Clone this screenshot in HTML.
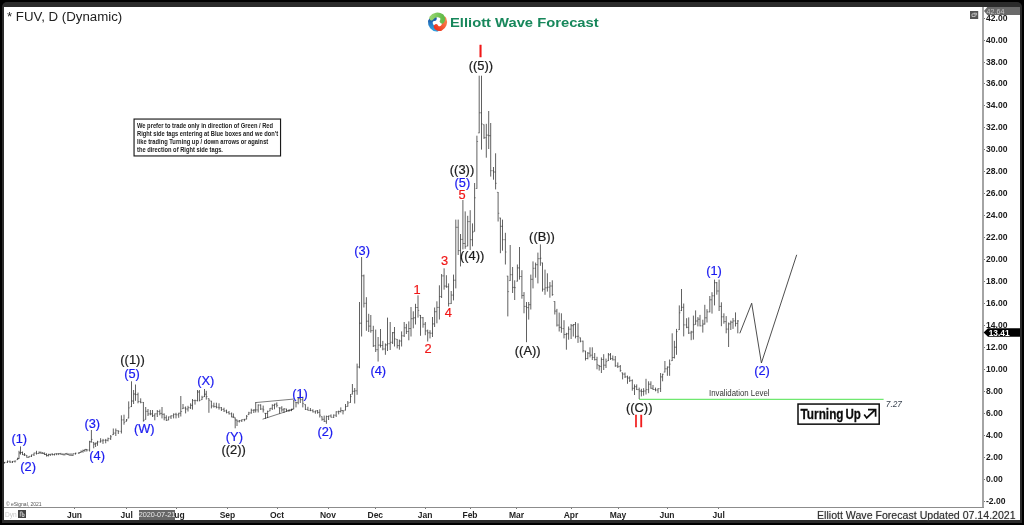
<!DOCTYPE html>
<html><head><meta charset="utf-8"><title>FUV Elliott Wave Forecast</title>
<style>
html,body{margin:0;padding:0}
body{width:1024px;height:525px;background:#000;position:relative;overflow:hidden;font-family:"Liberation Sans",Arial,sans-serif}
.frame{position:absolute;left:2px;top:2.2px;width:1019.7px;height:520.4px;background:#2b2b2b;border-radius:5px 5px 0 0}
.chart{position:absolute;left:4px;top:7px;width:1016px;height:513px;background:#fff}
.abs{position:absolute}
.vax{position:absolute;left:982.3px;top:7px;width:1.25px;height:500.5px;background:#a4a4a4}
.hax{position:absolute;left:4px;top:506.7px;width:979.5px;height:1px;background:#8c8c8c}
.pl{position:absolute;left:985.6px;width:34px;height:11px;line-height:11px;font-size:9.1px;font-weight:bold;color:#1a1a1a;transform:scaleX(0.94);transform-origin:0 50%}
.pt{position:absolute;left:983.5px;width:1.5px;height:1px;background:#777}
.ml{position:absolute;top:509.5px;width:30px;text-align:center;height:11px;line-height:11px;font-size:8.5px;font-weight:bold;color:#1f1f1f}
.mt{position:absolute;top:507.5px;width:1px;height:1.5px;background:#777}
.title{position:absolute;left:7.3px;top:9.6px;font-size:12px;line-height:14px;color:#222;white-space:nowrap;transform:scaleX(1.105);transform-origin:0 0}
.note{position:absolute;left:133.2px;top:118.1px;width:146px;height:36.6px;border:1px solid transparent;background:transparent;box-sizing:content-box}
.note div{position:absolute;left:3.0px;top:3.25px;font-size:6.5px;line-height:7.8px;font-weight:bold;color:#222;white-space:nowrap;transform:scaleX(0.885);transform-origin:0 0}
.brand{position:absolute;left:449.6px;top:15.1px;font-size:13.7px;line-height:16px;font-weight:bold;color:#17875b;white-space:nowrap;transform:scaleX(1.078);transform-origin:0 0}
.upd{position:absolute;left:817px;top:508.7px;font-size:10.6px;line-height:12px;color:#2e2e2e;white-space:nowrap;text-shadow:0 0 1px #999}
.turn{position:absolute;left:797.1px;top:403.4px;width:79.4px;height:17.7px;border:1.7px solid #111;background:#fff}
.turn span{position:absolute;left:1.9px;top:1.6px;font-size:13.6px;line-height:15px;font-weight:normal;-webkit-text-stroke:0.5px #111;color:#111;letter-spacing:-0.55px;word-spacing:-2.4px;white-space:nowrap}
.inv{position:absolute;left:709.4px;top:388.1px;font-size:8.3px;line-height:10px;color:#333;white-space:nowrap;transform:scaleX(0.945);transform-origin:0 0}
.v727{position:absolute;left:885.8px;top:399.3px;font-size:8.3px;line-height:10px;color:#3a4350;white-space:nowrap;font-style:italic}
.tag{position:absolute;left:984px;width:36px;height:8.5px}
.esig{position:absolute;left:6px;top:500.6px;font-size:5px;line-height:6px;color:#555;white-space:nowrap}
.dyn{position:absolute;left:5px;top:509.8px;font-size:6.6px;line-height:9px;color:#c9c9c9;white-space:nowrap}
.dynic{position:absolute;left:18.1px;top:509.8px;width:7.9px;height:8.1px;background:#444}
.date{position:absolute;left:138.8px;top:510.3px;width:36.2px;height:9.5px;background:#666;color:#e8e8e8;font-size:7.3px;line-height:9.5px;text-align:center;white-space:nowrap;letter-spacing:-0.1px}
svg text{font-family:"Liberation Sans",Arial,sans-serif}
</style></head><body>
<div class="frame"></div>
<div class="chart"></div>
<div class="vax"></div><div class="hax"></div>
<div class="pl" style="top:495.6px">-2.00</div><div class="pt" style="top:500.6px"></div>
<div class="pl" style="top:473.6px">0.00</div><div class="pt" style="top:478.6px"></div>
<div class="pl" style="top:451.6px">2.00</div><div class="pt" style="top:456.6px"></div>
<div class="pl" style="top:429.7px">4.00</div><div class="pt" style="top:434.7px"></div>
<div class="pl" style="top:407.7px">6.00</div><div class="pt" style="top:412.7px"></div>
<div class="pl" style="top:385.8px">8.00</div><div class="pt" style="top:390.8px"></div>
<div class="pl" style="top:363.8px">10.00</div><div class="pt" style="top:368.8px"></div>
<div class="pl" style="top:341.9px">12.00</div><div class="pt" style="top:346.9px"></div>
<div class="pl" style="top:319.9px">14.00</div><div class="pt" style="top:324.9px"></div>
<div class="pl" style="top:298.0px">16.00</div><div class="pt" style="top:303.0px"></div>
<div class="pl" style="top:276.0px">18.00</div><div class="pt" style="top:281.0px"></div>
<div class="pl" style="top:254.1px">20.00</div><div class="pt" style="top:259.1px"></div>
<div class="pl" style="top:232.1px">22.00</div><div class="pt" style="top:237.1px"></div>
<div class="pl" style="top:210.2px">24.00</div><div class="pt" style="top:215.2px"></div>
<div class="pl" style="top:188.2px">26.00</div><div class="pt" style="top:193.2px"></div>
<div class="pl" style="top:166.2px">28.00</div><div class="pt" style="top:171.2px"></div>
<div class="pl" style="top:144.3px">30.00</div><div class="pt" style="top:149.3px"></div>
<div class="pl" style="top:122.3px">32.00</div><div class="pt" style="top:127.3px"></div>
<div class="pl" style="top:100.4px">34.00</div><div class="pt" style="top:105.4px"></div>
<div class="pl" style="top:78.4px">36.00</div><div class="pt" style="top:83.4px"></div>
<div class="pl" style="top:56.5px">38.00</div><div class="pt" style="top:61.5px"></div>
<div class="pl" style="top:34.5px">40.00</div><div class="pt" style="top:39.5px"></div>
<div class="pl" style="top:12.6px">42.00</div><div class="pt" style="top:17.6px"></div>
<div class="ml" style="left:59.5px">Jun</div><div class="mt" style="left:74.0px"></div>
<div class="ml" style="left:111.7px">Jul</div><div class="mt" style="left:126.2px"></div>
<div class="ml" style="left:161.5px">Aug</div><div class="mt" style="left:176.0px"></div>
<div class="ml" style="left:212.5px">Sep</div><div class="mt" style="left:227.0px"></div>
<div class="ml" style="left:262px">Oct</div><div class="mt" style="left:276.5px"></div>
<div class="ml" style="left:313px">Nov</div><div class="mt" style="left:327.5px"></div>
<div class="ml" style="left:360.3px">Dec</div><div class="mt" style="left:374.8px"></div>
<div class="ml" style="left:410px">Jan</div><div class="mt" style="left:424.5px"></div>
<div class="ml" style="left:455px">Feb</div><div class="mt" style="left:469.5px"></div>
<div class="ml" style="left:501.5px">Mar</div><div class="mt" style="left:516.0px"></div>
<div class="ml" style="left:556px">Apr</div><div class="mt" style="left:570.5px"></div>
<div class="ml" style="left:603px">May</div><div class="mt" style="left:617.5px"></div>
<div class="ml" style="left:652px">Jun</div><div class="mt" style="left:666.5px"></div>
<div class="ml" style="left:703.7px">Jul</div><div class="mt" style="left:718.2px"></div>
<div class="title">* FUV, D (Dynamic)</div>
<div class="esig">© eSignal, 2021</div>
<div class="dyn">Dyn</div><div class="dynic"></div>
<div class="date">2020-07-21</div>
<div class="upd">Elliott Wave Forecast Updated 07.14.2021</div>

<svg class="abs" style="left:0;top:0" width="1024" height="525" viewBox="0 0 1024 525">
 <!-- logo -->
 <defs>
 <linearGradient id="gG" x1="0" y1="0" x2="1" y2="0"><stop offset="0" stop-color="#94d36c"/><stop offset="1" stop-color="#62bb4a"/></linearGradient>
 <linearGradient id="gO" x1="1" y1="0" x2="0" y2="1"><stop offset="0" stop-color="#f8804a"/><stop offset="1" stop-color="#ee3520"/></linearGradient>
 <linearGradient id="gB" x1="0" y1="1" x2="0" y2="0"><stop offset="0" stop-color="#2f9fe0"/><stop offset="1" stop-color="#1f58a6"/></linearGradient>
 </defs>
 <g fill="none" stroke-width="4.7" stroke-linecap="round">
 <path d="M436.87 29.27A7.2 7.2 0 0 1 431.98 26.73A7.2 7.2 0 0 1 430.33 21.47Q431.85 18.14 434.48 18.63" stroke="url(#gB)"/>
 <path d="M444.03 19.06A7.2 7.2 0 0 1 444.27 24.56A7.2 7.2 0 0 1 440.54 28.63Q436.90 28.97 436.00 26.45" stroke="url(#gO)"/>
 <path d="M431.60 17.97A7.2 7.2 0 0 1 436.25 15.01A7.2 7.2 0 0 1 441.63 16.20Q443.75 19.18 442.02 21.22" stroke="url(#gG)"/>
 </g>
 <!-- invalidation line -->
 <path d="M639 399.4H883.6" stroke="#6fe86f" stroke-width="1.1" fill="none"/>
 <!-- wedge -->
 <path d="M255.3 402.6L294.5 399M262.6 419.2L293.2 409.2" stroke="#444" stroke-width="0.7" fill="none"/>
 <!-- price bars -->
 <path d="M4.5 462.0V463.5M7.5 460.5V463.0M10.0 460.5V463.0M12.5 461.0V463.0M15.0 460.5V462.5M17.6 457.7V460.0M19.0 450.8V459.0M20.5 446.4V454.6M22.5 451.5V455.0M24.5 453.0V456.0M26.8 455.0V457.7M29.0 456.0V457.7M31.5 454.6V457.0M34.0 452.7V456.0M36.5 450.8V454.6M39.0 451.5V454.0M40.9 451.6V453.9M42.8 452.0V454.0M44.6 452.4V455.0M46.5 453.3V456.5M48.4 453.8V456.4M50.3 454.0V456.0M52.4 453.4V455.4M54.5 453.6V455.5M56.6 453.3V455.2M58.7 453.2V455.1M60.9 452.9V454.8M63.0 453.3V455.2M65.0 453.3V455.3M67.0 452.9V455.0M69.0 453.3V455.5M71.0 453.2V455.7M73.0 453.3V456.0M75.5 452.7V454.6M79.0 452.0V454.0M81.0 450.5V453.0M83.0 449.6V452.7M84.9 449.0V451.8M86.8 449.0V451.5M89.6 440.8V451.5M91.4 430.0V442.6M93.7 442.0V448.3M95.6 442.6V447.0M97.5 440.8V445.8M100.6 438.2V442.6M103.0 438.9V443.9M105.7 438.9V443.3M108.0 437.6V441.4M110.7 435.0V440.0M113.3 428.5V435.0M115.8 428.5V436.0M118.3 430.4V434.0M121.4 415.3V433.5M124.0 414.7V424.7M126.5 419.0V421.6M128.7 401.4V418.4M131.5 381.3V407.0M133.6 390.0V404.0M135.5 384.5V400.8M138.0 392.6V403.3M140.7 398.3V403.3M143.4 402.0V421.6M145.7 407.0V419.7M148.0 409.0V416.0M150.4 410.0V415.3M152.5 410.0V417.0M154.8 413.4V420.3M157.3 410.0V417.0M159.8 409.6V415.3M162.0 407.0V418.4M164.2 413.4V420.3M166.3 415.3V421.0M168.6 416.5V420.3M171.0 415.3V419.0M173.6 413.4V418.4M176.0 412.8V418.4M178.7 412.8V417.8M180.8 396.0V416.5M183.0 404.0V409.0M185.6 406.5V413.4M188.0 405.8V411.5M190.6 403.3V409.0M192.5 399.0V409.6M195.0 399.6V404.6M197.5 390.0V401.4M199.4 390.0V401.4M202.0 395.8V400.0M204.5 389.0V397.0M206.3 390.8V399.6M208.9 398.3V412.8M211.4 400.8V408.4M213.9 402.7V407.7M216.4 402.7V408.4M219.0 403.3V409.6M221.4 407.0V411.0M224.0 407.7V412.0M226.5 409.6V413.4M229.0 411.0V414.5M231.6 412.5V417.3M233.4 413.4V417.8M235.2 417.5V428.3M237.0 419.5V426.0M239.3 420.0V422.5M241.8 419.4V422.0M244.4 418.8V421.3M246.6 415.0V419.4M248.8 411.8V415.0M251.3 408.7V413.7M253.8 409.3V413.0M255.7 402.4V412.5M258.2 404.3V412.5M260.7 404.3V410.0M263.2 405.6V412.5M265.5 413.0V418.8M267.6 410.6V418.0M270.0 408.0V411.2M272.3 404.3V410.0M274.5 403.7V409.3M276.8 402.4V407.4M279.6 407.4V413.7M281.8 406.2V411.8M284.0 408.0V413.0M286.5 408.7V411.8M289.0 409.3V411.8M291.5 408.7V411.2M293.7 400.0V409.3M296.0 401.8V407.4M298.2 397.4V404.3M300.3 391.0V403.0M302.8 396.7V407.4M305.4 404.3V410.0M307.9 406.8V410.6M310.4 408.0V411.2M312.9 409.3V412.5M315.4 410.6V413.7M317.6 410.0V413.7M319.8 409.3V417.5M322.0 416.3V420.7M324.2 415.6V422.0M326.4 415.6V423.8M328.6 415.6V420.0M331.0 414.4V417.5M333.7 414.4V418.0M336.2 411.2V417.0M338.7 410.6V414.4M340.8 407.4V412.5M343.0 410.0V414.4M345.5 404.0V410.5M347.8 401.0V406.7M350.5 394.0V402.8M352.4 384.0V394.5M354.7 388.0V403.5M357.1 363.6V394.8M359.5 302.0V368.3M361.6 257.0V336.5M363.9 274.6V307.5M366.4 297.2V330.8M368.7 313.8V332.0M370.8 315.0V332.7M373.3 325.8V347.0M375.7 329.6V352.0M378.1 337.0V361.5M380.5 329.0V347.6M382.8 340.9V350.3M385.4 343.4V354.8M387.5 317.6V351.0M390.2 322.0V350.0M392.6 332.0V344.0M394.5 327.0V346.5M397.2 339.0V348.4M399.4 339.6V349.7M401.6 331.4V346.5M404.2 322.0V337.0M406.4 323.9V334.0M408.8 321.4V340.3M411.0 307.0V336.5M413.3 311.3V328.3M415.5 303.8V324.5M418.0 295.3V317.6M420.5 315.0V335.8M423.0 317.0V327.7M425.3 322.0V335.2M427.7 329.6V341.5M430.0 330.2V338.4M432.5 317.0V337.0M434.6 307.5V327.0M436.9 301.3V323.3M439.4 285.3V319.5M441.6 274.0V298.0M444.1 268.3V289.7M446.4 275.2V287.8M448.6 283.4V306.5M451.2 291.0V304.0M453.5 274.6V300.4M455.8 219.6V288.4M458.2 219.6V255.0M460.5 234.0V266.4M462.9 200.0V249.4M465.2 211.4V248.8M467.7 215.8V246.3M470.2 210.2V250.0M472.5 223.4V246.3M474.6 183.0V231.6M476.9 135.7V188.8M479.2 75.7V133.2M481.5 75.7V149.6M484.0 124.4V138.9M486.3 123.8V157.7M488.7 111.0V149.0M490.7 123.0V176.6M493.5 167.0V179.7M495.6 153.3V189.4M498.1 192.0V221.5M500.4 217.7V253.2M502.5 219.6V250.7M505.4 232.8V264.5M507.8 275.8V316.4M510.2 245.0V280.9M512.6 267.0V293.0M514.7 280.3V300.0M517.4 264.5V281.5M519.5 247.0V279.6M521.9 270.2V298.7M524.0 292.1V313.3M526.5 302.0V342.2M528.7 302.0V319.6M530.8 274.6V309.5M533.0 261.4V288.4M535.6 262.6V277.7M537.9 252.6V283.4M540.4 244.4V265.8M542.5 262.6V291.6M545.0 269.6V294.8M547.4 273.3V291.6M549.9 282.0V297.7M552.3 280.3V295.8M554.8 301.2V314.5M556.9 308.9V326.5M559.2 312.6V331.5M561.4 313.3V332.8M564.0 320.2V338.4M566.4 332.8V349.7M568.6 326.5V339.7M571.1 324.0V339.0M573.3 324.0V336.5M575.5 322.0V338.4M578.0 323.3V342.9M580.4 337.5V342.3M583.0 340.6V352.4M585.5 350.7V360.5M587.8 352.0V359.3M590.0 347.3V357.4M592.3 347.3V360.0M594.7 353.0V360.5M597.0 356.8V369.3M599.2 365.0V370.6M601.4 357.4V373.0M603.7 354.2V370.0M606.0 358.6V368.0M608.4 353.0V361.0M610.5 353.0V360.0M612.8 355.5V360.5M615.3 356.0V366.8M617.8 362.4V368.0M620.3 365.0V371.8M622.6 372.5V379.4M625.0 372.5V378.0M627.5 375.6V383.8M629.7 376.3V382.0M632.3 379.4V390.7M634.5 384.4V395.0M636.7 384.4V390.0M639.2 387.6V399.0M641.4 388.8V396.4M643.6 388.2V395.7M646.0 378.8V394.5M648.6 381.3V393.2M650.9 381.3V388.8M653.0 385.0V390.0M655.5 387.6V391.3M658.0 388.2V393.2M660.6 373.0V392.0M662.6 373.7V381.3M664.9 361.0V372.4M667.4 366.4V375.8M669.6 359.5V375.8M672.2 333.3V361.0M674.4 340.8V358.5M676.5 328.9V354.8M679.3 305.4V330.0M681.5 289.0V311.0M683.7 303.5V336.4M686.6 318.2V328.2M688.7 317.4V334.0M691.2 330.8V340.2M693.4 315.6V339.6M695.6 310.4V324.7M697.9 317.1V326.4M700.0 314.9V326.4M702.8 319.7V332.6M704.8 304.8V324.6M707.0 309.2V322.5M709.8 296.0V312.3M712.0 292.2V313.6M714.5 279.6V305.4M716.8 282.0V294.7M719.1 279.6V311.0M721.4 302.3V326.2M723.9 313.3V323.7M726.2 316.1V333.3M728.6 322.5V347.0M730.8 320.6V330.0M733.0 318.0V328.9M735.5 312.4V326.5M737.8 320.0V333.3" stroke="#161616" stroke-width="0.68" fill="none"/>
 <path d="M3.2 462.8H4.5M4.5 462.3H5.8M6.2 462.3H7.5M7.5 461.3H8.8M8.8 461.3H10.0M10.0 462.1H11.2M11.2 462.1H12.5M12.5 461.3H13.8M13.8 461.3H15.0M15.0 461.0H16.2M16.4 459.7H17.6M17.6 458.6H18.9M17.8 458.6H19.0M19.0 452.9H20.2M19.2 452.9H20.5M20.5 452.5H21.8M21.2 452.5H22.5M22.5 454.8H23.8M23.2 454.8H24.5M24.5 454.8H25.8M25.6 455.3H26.8M26.8 457.4H28.1M27.8 457.4H29.0M29.0 456.3H30.2M30.2 456.3H31.5M31.5 454.8H32.8M32.8 454.8H34.0M34.0 453.0H35.2M35.2 453.0H36.5M36.5 453.5H37.8M37.8 453.5H39.0M39.0 452.3H40.2M39.6 452.3H40.9M40.9 453.1H42.1M41.5 453.1H42.8M42.8 453.6H44.0M43.4 453.6H44.6M44.6 454.5H45.9M45.2 454.5H46.5M46.5 455.6H47.8M47.1 455.6H48.4M48.4 454.4H49.6M49.0 454.4H50.3M50.3 454.1H51.5M51.1 454.1H52.4M52.4 454.6H53.6M53.2 454.6H54.5M54.5 453.8H55.8M55.4 453.8H56.6M56.6 453.8H57.9M57.5 453.8H58.7M58.7 453.6H60.0M59.6 453.6H60.9M60.9 454.3H62.1M61.8 454.3H63.0M63.0 454.8H64.2M63.8 454.8H65.0M65.0 453.7H66.2M65.8 453.7H67.0M67.0 454.4H68.2M67.8 454.4H69.0M69.0 455.2H70.2M69.8 455.2H71.0M71.0 455.3H72.2M71.8 455.3H73.0M73.0 453.7H74.2M74.2 453.7H75.5M75.5 453.2H76.8M77.8 453.2H79.0M79.0 452.5H80.2M79.8 452.5H81.0M81.0 451.4H82.2M81.8 451.4H83.0M83.0 450.5H84.2M83.7 450.5H84.9M84.9 449.4H86.2M85.5 449.4H86.8M86.8 450.0H88.0M88.3 450.0H89.6M89.6 441.8H90.8M90.2 441.8H91.4M91.4 439.4H92.7M92.5 442.3H93.7M93.7 444.0H95.0M94.3 444.0H95.6M95.6 443.1H96.8M96.2 443.1H97.5M97.5 441.9H98.8M99.3 441.9H100.6M100.6 440.9H101.8M101.8 440.9H103.0M103.0 440.3H104.2M104.5 440.3H105.7M105.7 440.3H107.0M106.8 440.3H108.0M108.0 438.6H109.2M109.5 438.6H110.7M110.7 436.8H112.0M112.0 434.7H113.3M113.3 433.1H114.5M114.5 433.1H115.8M115.8 430.7H117.0M117.0 430.7H118.3M118.3 431.3H119.5M120.2 431.3H121.4M121.4 419.9H122.7M122.8 419.9H124.0M124.0 422.3H125.2M125.2 421.3H126.5M126.5 419.9H127.8M127.4 418.1H128.7M128.7 407.9H129.9M130.2 406.7H131.5M131.5 401.0H132.8M132.3 401.0H133.6M133.6 394.0H134.8M134.2 394.0H135.5M135.5 394.6H136.8M136.8 394.6H138.0M138.0 401.6H139.2M139.4 401.6H140.7M140.7 402.4H141.9M142.2 402.4H143.4M143.4 420.6H144.7M144.4 419.4H145.7M145.7 411.3H146.9M146.8 411.3H148.0M148.0 413.9H149.2M149.2 413.9H150.4M150.4 413.9H151.7M151.2 413.9H152.5M152.5 415.8H153.8M153.6 415.8H154.8M154.8 413.8H156.1M156.1 413.8H157.3M157.3 411.5H158.6M158.6 411.5H159.8M159.8 413.4H161.1M160.8 413.4H162.0M162.0 414.3H163.2M162.9 414.3H164.2M164.2 417.7H165.4M165.1 417.7H166.3M166.3 420.3H167.6M167.3 420.0H168.6M168.6 416.9H169.8M169.8 416.9H171.0M171.0 415.8H172.2M172.3 415.8H173.6M173.6 414.3H174.8M174.8 414.3H176.0M176.0 414.8H177.2M177.4 414.8H178.7M178.7 413.2H179.9M179.6 413.2H180.8M180.8 411.5H182.1M181.8 408.7H183.0M183.0 408.0H184.2M184.3 408.0H185.6M185.6 409.0H186.8M186.8 409.0H188.0M188.0 407.7H189.2M189.3 407.7H190.6M190.6 405.3H191.8M191.2 405.3H192.5M192.5 400.6H193.8M193.8 400.6H195.0M195.0 400.6H196.2M196.2 400.6H197.5M197.5 392.0H198.8M198.2 392.0H199.4M199.4 400.4H200.7M200.8 399.7H202.0M202.0 397.4H203.2M203.2 396.7H204.5M204.5 394.2H205.8M205.1 394.2H206.3M206.3 396.6H207.6M207.7 398.6H208.9M208.9 400.2H210.2M210.2 401.1H211.4M211.4 406.0H212.7M212.7 406.0H213.9M213.9 406.5H215.2M215.2 406.5H216.4M216.4 407.3H217.7M217.8 407.3H219.0M219.0 407.7H220.2M220.2 407.7H221.4M221.4 409.4H222.7M222.8 409.4H224.0M224.0 410.9H225.2M225.2 410.9H226.5M226.5 412.4H227.8M227.8 412.4H229.0M229.0 413.8H230.2M230.3 413.8H231.6M231.6 417.0H232.8M232.2 417.0H233.4M233.4 417.1H234.7M233.9 417.8H235.2M235.2 420.0H236.4M235.8 420.0H237.0M237.0 421.2H238.2M238.1 421.2H239.3M239.3 420.7H240.6M240.6 420.7H241.8M241.8 419.6H243.1M243.2 419.6H244.4M244.4 419.7H245.7M245.3 419.1H246.6M246.6 416.4H247.8M247.6 414.7H248.8M248.8 412.9H250.1M250.1 412.9H251.3M251.3 410.3H252.6M252.6 410.3H253.8M253.8 410.0H255.1M254.4 410.0H255.7M255.7 409.9H256.9M256.9 409.9H258.2M258.2 405.0H259.4M259.4 405.0H260.7M260.7 409.0H261.9M261.9 409.0H263.2M263.2 409.9H264.4M264.2 413.3H265.5M265.5 413.4H266.8M266.4 413.4H267.6M267.6 411.5H268.9M268.8 410.9H270.0M270.0 408.3H271.2M271.1 408.3H272.3M272.3 405.3H273.6M273.2 405.3H274.5M274.5 404.1H275.8M275.6 404.1H276.8M276.8 405.4H278.1M278.4 407.7H279.6M279.6 408.0H280.9M280.6 408.0H281.8M281.8 409.8H283.1M282.8 409.8H284.0M284.0 408.9H285.2M285.2 409.0H286.5M286.5 410.6H287.8M287.8 410.6H289.0M289.0 410.2H290.2M290.2 410.2H291.5M291.5 409.4H292.8M292.4 409.0H293.7M293.7 400.9H294.9M294.8 402.1H296.0M296.0 402.6H297.2M296.9 402.6H298.2M298.2 398.6H299.4M299.1 398.6H300.3M300.3 399.7H301.6M301.6 399.7H302.8M302.8 403.6H304.1M304.1 404.6H305.4M305.4 409.4H306.6M306.6 409.4H307.9M307.9 410.4H309.1M309.1 410.4H310.4M310.4 410.4H311.6M311.6 410.4H312.9M312.9 411.8H314.1M314.1 411.8H315.4M315.4 410.8H316.6M316.4 410.8H317.6M317.6 412.4H318.9M318.6 412.4H319.8M319.8 415.2H321.1M320.8 416.6H322.0M322.0 419.3H323.2M322.9 419.3H324.2M324.2 421.3H325.4M325.1 421.3H326.4M326.4 416.5H327.6M327.4 416.5H328.6M328.6 415.9H329.9M329.8 415.9H331.0M331.0 417.3H332.2M332.4 417.3H333.7M333.7 415.2H334.9M334.9 415.2H336.2M336.2 411.8H337.4M337.4 411.8H338.7M338.7 411.5H339.9M339.6 411.5H340.8M340.8 410.5H342.1M341.8 410.5H343.0M343.0 411.0H344.2M344.2 410.2H345.5M345.5 406.6H346.8M346.6 406.4H347.8M347.8 403.0H349.1M349.2 402.5H350.5M350.5 396.6H351.8M351.1 394.2H352.4M352.4 391.3H353.6M353.4 391.3H354.7M354.7 390.8H355.9M355.9 390.8H357.1M357.1 367.0H358.4M358.2 367.0H359.5M359.5 323.2H360.8M360.4 323.2H361.6M361.6 275.8H362.9M362.6 275.8H363.9M363.9 303.3H365.1M365.1 303.3H366.4M366.4 321.2H367.6M367.4 321.2H368.7M368.7 326.1H369.9M369.6 326.1H370.8M370.8 330.6H372.1M372.1 330.6H373.3M373.3 345.8H374.6M374.4 345.8H375.7M375.7 349.7H376.9M376.9 349.7H378.1M378.1 345.1H379.4M379.2 345.1H380.5M380.5 345.5H381.8M381.6 345.5H382.8M382.8 349.0H384.1M384.1 349.0H385.4M385.4 344.9H386.6M386.2 344.9H387.5M387.5 343.7H388.8M388.9 343.7H390.2M390.2 342.3H391.4M391.4 342.3H392.6M392.6 332.7H393.9M393.2 332.7H394.5M394.5 338.9H395.8M395.9 339.3H397.2M397.2 345.6H398.4M398.1 345.6H399.4M399.4 341.0H400.6M400.4 341.0H401.6M401.6 335.8H402.9M402.9 335.8H404.2M404.2 327.8H405.4M405.1 327.8H406.4M406.4 331.5H407.6M407.6 331.5H408.8M408.8 328.5H410.1M409.8 328.5H411.0M411.0 318.7H412.2M412.1 318.7H413.3M413.3 317.8H414.6M414.2 317.8H415.5M415.5 307.5H416.8M416.8 307.5H418.0M418.0 310.4H419.2M419.2 315.3H420.5M420.5 317.7H421.8M421.8 317.7H423.0M423.0 324.2H424.2M424.1 324.2H425.3M425.3 330.9H426.6M426.4 330.9H427.7M427.7 332.8H428.9M428.8 332.8H430.0M430.0 333.2H431.2M431.2 333.2H432.5M432.5 323.9H433.8M433.4 323.9H434.6M434.6 311.7H435.9M435.6 311.7H436.9M436.9 307.4H438.1M438.1 307.4H439.4M439.4 296.6H440.6M440.4 296.6H441.6M441.6 275.9H442.9M442.9 275.9H444.1M444.1 286.1H445.4M445.1 286.1H446.4M446.4 286.8H447.6M447.4 286.8H448.6M448.6 303.6H449.9M449.9 303.6H451.2M451.2 295.1H452.4M452.2 295.1H453.5M453.5 280.2H454.8M454.6 280.2H455.8M455.8 227.3H457.1M456.9 227.3H458.2M458.2 250.6H459.4M459.2 250.6H460.5M460.5 239.4H461.8M461.6 239.4H462.9M462.9 243.5H464.1M463.9 243.5H465.2M465.2 246.6H466.4M466.4 246.0H467.7M467.7 221.6H468.9M468.9 221.6H470.2M470.2 239.7H471.4M471.2 239.7H472.5M472.5 232.1H473.8M473.4 231.3H474.6M474.6 197.8H475.9M475.6 188.5H476.9M476.9 141.5H478.1M477.9 132.9H479.2M479.2 112.8H480.4M480.2 112.8H481.5M481.5 123.9H482.8M482.8 124.7H484.0M484.0 137.7H485.2M485.1 137.7H486.3M486.3 135.1H487.6M487.4 135.1H488.7M488.7 135.7H489.9M489.4 135.7H490.7M490.7 170.7H491.9M492.2 170.7H493.5M493.5 172.0H494.8M494.4 172.0H495.6M495.6 183.3H496.9M496.9 192.3H498.1M498.1 213.3H499.4M499.1 218.0H500.4M500.4 226.3H501.6M501.2 226.3H502.5M502.5 239.7H503.8M504.1 239.7H505.4M505.4 252.0H506.6M506.6 276.1H507.8M507.8 291.6H509.1M508.9 280.6H510.2M510.2 274.7H511.4M511.4 274.7H512.6M512.6 287.4H513.9M513.5 287.4H514.7M514.7 287.7H516.0M516.1 281.2H517.4M517.4 267.9H518.6M518.2 267.9H519.5M519.5 276.5H520.8M520.6 276.5H521.9M521.9 295.5H523.1M522.8 295.5H524.0M524.0 306.4H525.2M525.2 306.4H526.5M526.5 307.6H527.8M527.5 307.6H528.7M528.7 304.7H530.0M529.5 304.7H530.8M530.8 279.3H532.0M531.8 279.3H533.0M533.0 268.3H534.2M534.4 268.3H535.6M535.6 264.7H536.9M536.6 264.7H537.9M537.9 258.7H539.1M539.1 258.7H540.4M540.4 258.2H541.6M541.2 262.9H542.5M542.5 289.2H543.8M543.8 289.2H545.0M545.0 287.8H546.2M546.1 287.8H547.4M547.4 287.2H548.6M548.6 287.2H549.9M549.9 286.0H551.1M551.0 286.0H552.3M552.3 294.5H553.5M553.5 301.5H554.8M554.8 311.1H556.0M555.6 311.1H556.9M556.9 325.1H558.1M558.0 325.1H559.2M559.2 327.3H560.5M560.1 327.3H561.4M561.4 328.6H562.6M562.8 328.6H564.0M564.0 334.5H565.2M565.1 334.5H566.4M566.4 333.8H567.6M567.4 333.8H568.6M568.6 329.2H569.9M569.9 329.2H571.1M571.1 325.7H572.4M572.0 325.7H573.3M573.3 324.6H574.5M574.2 324.6H575.5M575.5 336.4H576.8M576.8 336.4H578.0M578.0 336.2H579.2M579.1 337.8H580.4M580.4 341.2H581.6M581.8 341.2H583.0M583.0 350.7H584.2M584.2 351.0H585.5M585.5 358.5H586.8M586.5 358.5H587.8M587.8 353.2H589.0M588.8 353.2H590.0M590.0 355.2H591.2M591.0 355.2H592.3M592.3 357.4H593.5M593.5 357.4H594.7M594.7 359.6H596.0M595.8 359.6H597.0M597.0 364.8H598.2M598.0 365.3H599.2M599.2 366.4H600.5M600.1 366.4H601.4M601.4 359.5H602.6M602.5 359.5H603.7M603.7 365.2H605.0M604.8 365.2H606.0M606.0 361.6H607.2M607.1 360.7H608.4M608.4 354.8H609.6M609.2 354.8H610.5M610.5 358.6H611.8M611.5 358.6H612.8M612.8 359.8H614.0M614.0 359.8H615.3M615.3 365.9H616.5M616.5 365.9H617.8M617.8 366.6H619.0M619.0 366.6H620.3M620.3 370.5H621.5M621.4 372.8H622.6M622.6 374.1H623.9M623.8 374.1H625.0M625.0 376.8H626.2M626.2 376.8H627.5M627.5 378.0H628.8M628.5 378.0H629.7M629.7 380.6H631.0M631.0 380.6H632.3M632.3 388.3H633.5M633.2 388.3H634.5M634.5 386.7H635.8M635.5 386.7H636.7M636.7 389.6H638.0M638.0 389.6H639.2M639.2 391.0H640.5M640.1 391.0H641.4M641.4 391.5H642.6M642.4 391.5H643.6M643.6 391.0H644.9M644.8 391.0H646.0M646.0 389.6H647.2M647.4 389.6H648.6M648.6 384.2H649.9M649.6 384.2H650.9M650.9 388.3H652.1M651.8 388.3H653.0M653.0 389.5H654.2M654.2 389.5H655.5M655.5 390.0H656.8M656.8 390.0H658.0M658.0 388.7H659.2M659.4 388.7H660.6M660.6 376.9H661.9M661.4 376.9H662.6M662.6 374.3H663.9M663.6 372.1H664.9M664.9 368.8H666.1M666.1 368.8H667.4M667.4 367.1H668.6M668.4 367.1H669.6M669.6 364.1H670.9M671.0 360.7H672.2M672.2 357.5H673.5M673.1 357.5H674.4M674.4 347.2H675.6M675.2 347.2H676.5M676.5 331.6H677.8M678.0 329.7H679.3M679.3 312.8H680.5M680.2 310.7H681.5M681.5 307.3H682.8M682.5 307.3H683.7M683.7 324.9H685.0M685.4 324.9H686.6M686.6 327.3H687.9M687.5 327.3H688.7M688.7 333.0H690.0M690.0 333.0H691.2M691.2 332.0H692.5M692.1 332.0H693.4M693.4 324.8H694.6M694.4 324.4H695.6M695.6 321.0H696.9M696.6 321.0H697.9M697.9 319.2H699.1M698.8 319.2H700.0M700.0 325.8H701.2M701.5 325.8H702.8M702.8 324.1H704.0M703.5 324.1H704.8M704.8 317.8H706.0M705.8 317.8H707.0M707.0 311.9H708.2M708.5 311.9H709.8M709.8 299.8H711.0M710.8 299.8H712.0M712.0 295.8H713.2M713.2 295.8H714.5M714.5 282.7H715.8M715.5 282.7H716.8M716.8 291.0H718.0M717.9 291.0H719.1M719.1 306.4H720.4M720.1 306.4H721.4M721.4 316.8H722.6M722.6 316.8H723.9M723.9 321.6H725.1M725.0 321.6H726.2M726.2 329.1H727.5M727.4 329.1H728.6M728.6 323.9H729.9M729.5 323.9H730.8M730.8 322.2H732.0M731.8 322.2H733.0M733.0 320.9H734.2M734.2 320.9H735.5M735.5 323.4H736.8M736.5 323.4H737.8M737.8 321.0H739.0" stroke="#161616" stroke-width="0.5" fill="none" opacity="0.8"/>
 <!-- forecast path -->
 <path d="M739.8 333.3L751.7 303.2L761.4 363L796.7 254.8" stroke="#3a3a3a" stroke-width="0.9" fill="none" stroke-linejoin="miter"/>
 <g font-size="12.8" stroke-width="0.22">
 <text x="19.2" y="443.1" fill="#1a1af0" stroke="#1a1af0" text-anchor="middle">(1)</text>
<text x="28.1" y="470.8" fill="#1a1af0" stroke="#1a1af0" text-anchor="middle">(2)</text>
<text x="92.2" y="427.7" fill="#1a1af0" stroke="#1a1af0" text-anchor="middle">(3)</text>
<text x="97.1" y="459.8" fill="#1a1af0" stroke="#1a1af0" text-anchor="middle">(4)</text>
<text x="132.5" y="363.8" fill="#1c1c1c" stroke="#1c1c1c" font-size="12.9" text-anchor="middle">((1))</text>
<text x="132" y="377.8" fill="#1a1af0" stroke="#1a1af0" text-anchor="middle">(5)</text>
<text x="144.3" y="433.4" fill="#1a1af0" stroke="#1a1af0" text-anchor="middle">(W)</text>
<text x="205.7" y="385.2" fill="#1a1af0" stroke="#1a1af0" text-anchor="middle">(X)</text>
<text x="234.4" y="441.3" fill="#1a1af0" stroke="#1a1af0" text-anchor="middle">(Y)</text>
<text x="233.7" y="454.2" fill="#1c1c1c" stroke="#1c1c1c" font-size="12.9" text-anchor="middle">((2))</text>
<text x="300" y="398.1" fill="#1a1af0" stroke="#1a1af0" text-anchor="middle">(1)</text>
<text x="325.2" y="436.2" fill="#1a1af0" stroke="#1a1af0" text-anchor="middle">(2)</text>
<text x="362.1" y="255.0" fill="#1a1af0" stroke="#1a1af0" text-anchor="middle">(3)</text>
<text x="378.2" y="374.8" fill="#1a1af0" stroke="#1a1af0" text-anchor="middle">(4)</text>
<text x="417" y="294" fill="#f01818" stroke="#f01818" text-anchor="middle">1</text>
<text x="428.1" y="352.5" fill="#f01818" stroke="#f01818" text-anchor="middle">2</text>
<text x="444.6" y="265.3" fill="#f01818" stroke="#f01818" text-anchor="middle">3</text>
<text x="448.3" y="317.4" fill="#f01818" stroke="#f01818" text-anchor="middle">4</text>
<text x="462" y="199" fill="#f01818" stroke="#f01818" text-anchor="middle">5</text>
<text x="462" y="174.2" fill="#1c1c1c" stroke="#1c1c1c" font-size="12.9" text-anchor="middle">((3))</text>
<text x="462.4" y="186.9" fill="#1a1af0" stroke="#1a1af0" text-anchor="middle">(5)</text>
<text x="472.2" y="260" fill="#1c1c1c" stroke="#1c1c1c" font-size="12.9" text-anchor="middle">((4))</text>
<text x="480.8" y="70" fill="#1c1c1c" stroke="#1c1c1c" font-size="12.9" text-anchor="middle">((5))</text>
<text x="527.7" y="355" fill="#1c1c1c" stroke="#1c1c1c" font-size="12.9" text-anchor="middle">((A))</text>
<text x="542" y="240.7" fill="#1c1c1c" stroke="#1c1c1c" font-size="12.9" text-anchor="middle">((B))</text>
<text x="639.2" y="412" fill="#1c1c1c" stroke="#1c1c1c" font-size="12.9" text-anchor="middle">((C))</text>
<text x="714" y="275.2" fill="#1a1af0" stroke="#1a1af0" text-anchor="middle">(1)</text>
<text x="762" y="375.2" fill="#1a1af0" stroke="#1a1af0" text-anchor="middle">(2)</text>
 </g>
 <text x="480.6" y="57.1" fill="#f01818" stroke="#f01818" stroke-width="0.35" font-size="16.5" text-anchor="middle">I</text>
 <text x="638.9" y="427.2" fill="#f01818" stroke="#f01818" stroke-width="0.35" font-size="16" text-anchor="middle" letter-spacing="0.6">II</text>
 <rect x="134.05" y="119.05" width="146.5" height="36.9" fill="#fff" stroke="#1a1a1a" stroke-width="1.15"/>
 <!-- Turning Up box -->
 <rect x="798" y="404.05" width="81.2" height="20.1" fill="#fff" stroke="#0c0c0c" stroke-width="1.5"/>
 <text transform="translate(800.5,418.8) scale(0.838,1)" font-size="14.1" font-weight="bold" fill="#0c0c0c" stroke="#0c0c0c" stroke-width="0.25">Turning</text>
 <text transform="translate(845.5,418.8) scale(0.82,1)" font-size="14.1" font-weight="bold" fill="#0c0c0c" stroke="#0c0c0c" stroke-width="0.25">Up</text>
 <path d="M864.2 414.6L866.7 417.9L875.3 409.6M868 409.6H875.6V416.8" stroke="#0c0c0c" stroke-width="1.7" fill="none"/>
 <!-- 42.64 tag -->
 <path d="M984 11L987.3 7H1020V15H987.3Z" fill="#6a6a6a"/>
 <text x="986.6" y="13.8" fill="#c6c6c6" font-size="7.1">42.64</text>
 <!-- 13.41 tag -->
 <path d="M983.6 332.5L988 328.2H1020V336.8H988Z" fill="#000"/>
 <text x="988.7" y="335.5" fill="#fff" font-size="8.35" font-weight="bold">13.41</text>
 <!-- small icon -->
 <rect x="970" y="11" width="8.2" height="8" fill="#555"/>
 <path d="M972 16.5h3.2v-2.6h-3.2zM973.6 13.2h3v2.2" stroke="#ddd" stroke-width="0.7" fill="none"/>
 <!-- dyn icon glyph -->
 <path d="M20.3 516.5v-4.6h1.9v4.6M22.2 514h1.9v2.5h-1.9" stroke="#eee" stroke-width="0.7" fill="none"/>
</svg>
<div class="note"><div>We prefer to trade only in direction of Green / Red<br>Right side tags entering at Blue boxes and we don't<br>like trading Turning up / down arrows or against<br>the direction of Right side tags.</div></div>
<div class="brand">Elliott Wave Forecast</div>
<div class="inv">Invalidation Level</div>
<div class="v727">7.27</div>

</body></html>
